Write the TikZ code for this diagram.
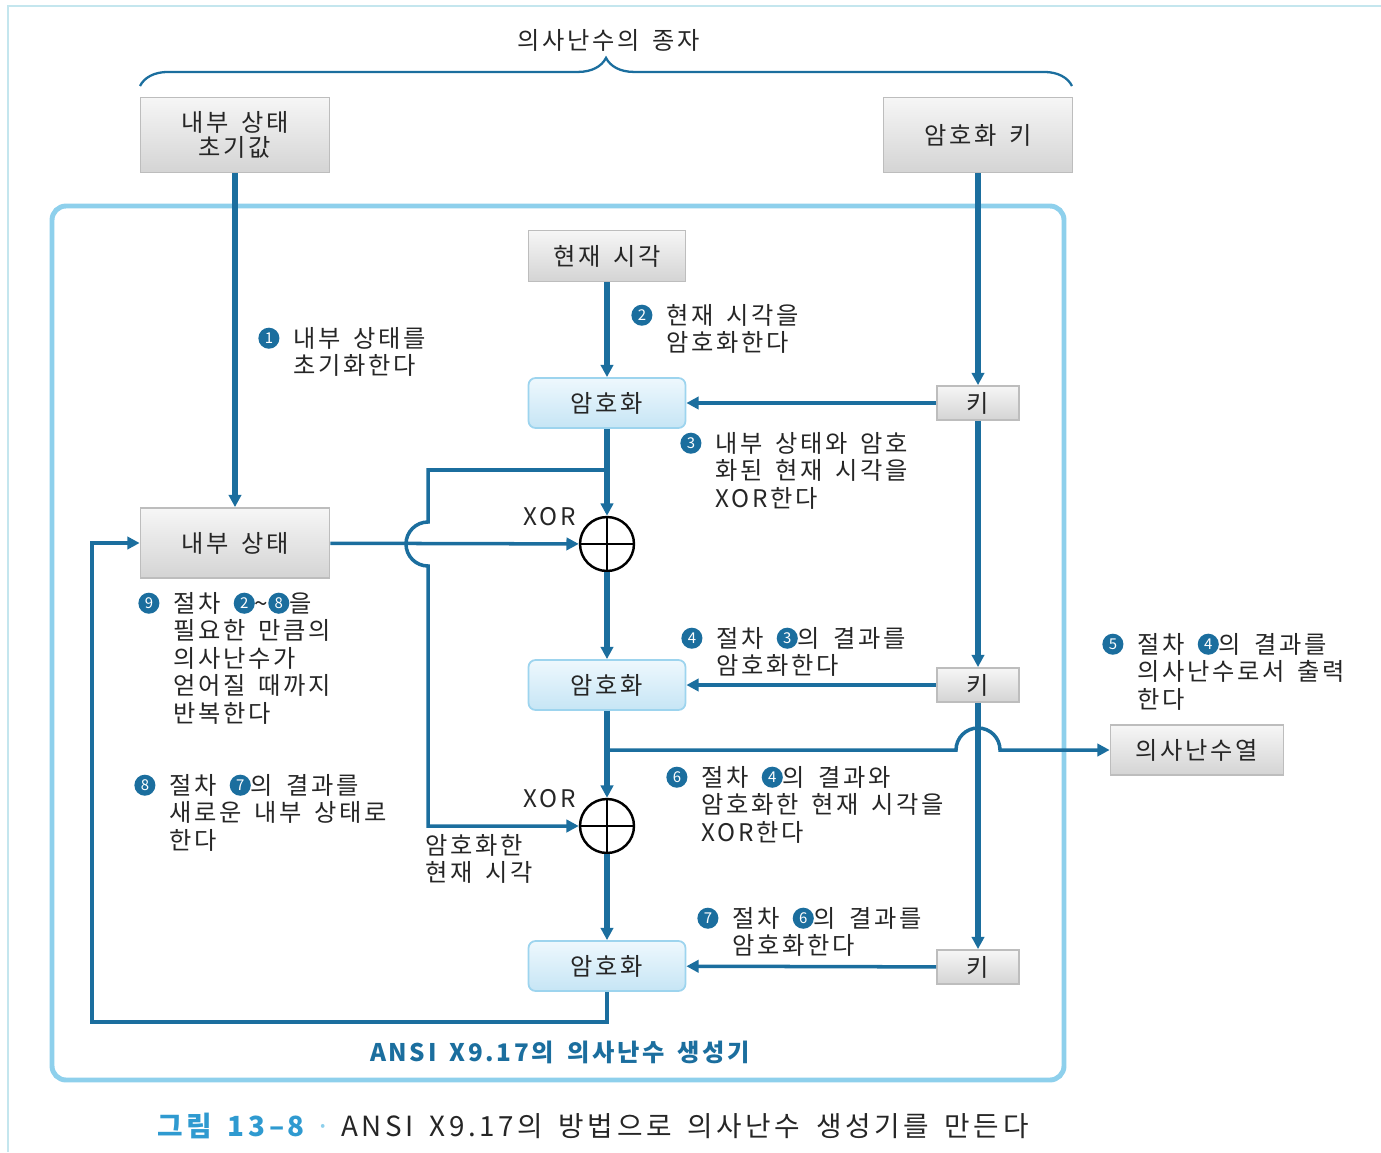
\documentclass[tikz,border=0pt]{standalone}
\usepackage{fontspec}
\setmainfont{Noto Sans CJK KR}[LetterSpace=11,WordSpace=1.6]
\usetikzlibrary{arrows.meta,positioning,calc,decorations.pathreplacing}

\definecolor{flow}{HTML}{1B6E9E}
\definecolor{frameblue}{HTML}{8ED0EC}
\definecolor{pageline}{HTML}{C4E6EE}
\definecolor{boxline}{HTML}{BDBDBD}
\definecolor{boxtop}{HTML}{F6F6F6}
\definecolor{boxbot}{HTML}{D4D4D4}
\definecolor{encline}{HTML}{9DD4EE}
\definecolor{enctop}{HTML}{EEF8FD}
\definecolor{encbot}{HTML}{C6E5F5}
\definecolor{textgray}{HTML}{262626}
\definecolor{figblue}{HTML}{2F9AD0}

\tikzset{numc/.style={circle, fill=flow, text=white, inner sep=0pt, minimum size=12pt, anchor=center, font=\fontsize{8.5}{8.5}\selectfont}}
\newcommand\cnum[1]{\tikz[baseline={([yshift=-5pt]c.center)}]\node[numc] (c) {#1};}
\newcommand\lines[1]{\begin{tabular}[t]{@{}l@{}}#1\end{tabular}}

\begin{document}
\begin{tikzpicture}[x=0.02cm, y=0.02cm,
    font=\fontsize{13.8}{14.2}\selectfont, text=textgray,
    graybox/.style={draw=boxline, line width=1pt, top color=boxtop, bottom color=boxbot, align=center},
    bigbox/.style={graybox, minimum width=3.78cm, minimum height=1.5cm},
    keybox/.style={graybox, minimum width=1.64cm, minimum height=0.68cm},
    encbox/.style={draw=encline, line width=1pt, rounded corners=4pt, top color=enctop, bottom color=encbot, minimum width=3.14cm, minimum height=1cm},
    xorc/.style={circle, draw=black, line width=1.4pt, minimum size=1.08cm, inner sep=0pt,
        path picture={\draw[line width=1.4pt] (path picture bounding box.north) -- (path picture bounding box.south)
        (path picture bounding box.west) -- (path picture bounding box.east);}},
    main/.style={draw=flow, line width=3.4pt},
    thin/.style={draw=flow, line width=2pt},
    arr/.style={-{Triangle[length=7pt,width=7pt]}},
    note/.style={anchor=base west, inner sep=0pt, align=left}
]
\useasboundingbox (0,0) rectangle (1381,-1152);
\draw[pageline, line width=1pt] (8,-1152) -- (8,-6) -- (1381,-6);

\node[inner sep=0pt] (seed) at (609,-40) {의사난수의 종자};
\coordinate (brl) at (140,-86);
\coordinate (brr) at (1072,-86);
\draw[flow, line width=1.3pt, decorate, decoration={brace, amplitude=16pt}] (brl) -- (brr);

\node[bigbox] (init) at (235,-135) {내부 상태\\초기값};
\node[bigbox] (key) at (978,-135) {암호화 키};

\draw[frameblue, line width=2.8pt, rounded corners=8pt] (52,-206) rectangle (1064,-1080);

\node[graybox, minimum width=3.14cm, minimum height=1.02cm] (time) at (607,-256) {현재 시각};
\node[encbox] (enc1) at (607,-403) {암호화};
\node[encbox] (enc2) at (607,-685) {암호화};
\node[encbox] (enc3) at (607,-966) {암호화};
\node[keybox] (k1) at (978,-403) {키};
\node[keybox] (k2) at (978,-685) {키};
\node[keybox] (k3) at (978,-967) {키};
\node[xorc] (xor1) at (607,-544) {};
\node[xorc] (xor2) at (607,-826) {};
\node[note] (x1) at (523,-525) {XOR};
\node[note] (x2) at (523,-807) {XOR};
\node[graybox, minimum width=3.78cm, minimum height=1.4cm] (state) at (235,-543) {내부 상태};
\node[graybox, minimum width=3.46cm, minimum height=1cm] (out) at (1197,-750) {의사난수열};

\draw[main,arr] (init) -- (state);
\draw[main,arr] (time) -- (enc1);
\draw[main,arr] (key) -- (k1);
\draw[main,arr] (k1) -- (k2);
\draw[main,arr] (k2) -- (k3);
\draw[thin,arr] (k1) -- (enc1);
\draw[thin,arr] (k2) -- (enc2);
\draw[thin,arr] (k3) -- (enc3);
\draw[main,arr] (enc1) -- (xor1);
\draw[main,arr] (xor1) -- (enc2);
\draw[main,arr] (enc2) -- (xor2);
\draw[main,arr] (xor2) -- (enc3);
\draw[thin,arr] (state) -- (xor1);

\coordinate (br1) at (607,-470);
\coordinate (br2) at (607,-750);
\coordinate (fb) at (92,-1022);
\draw[thin,arr] (br1) -- ++(-179,0) -- ++(0,-52) arc[start angle=90, end angle=270, radius=22] |- (xor2);
\draw[thin,arr] (br2) -- ++(349,0) arc[start angle=180, end angle=0, radius=22] -- (out);
\draw[thin,arr] (enc3) |- (fb) |- (state);

\node[note] (n1) at (258,-347) {\cnum{1}\hspace{8pt}\lines{내부 상태를\\초기화한다}};
\node[note] (n2) at (631,-324) {\cnum{2}\hspace{8pt}\lines{현재 시각을\\암호화한다}};
\node[note] (n3) at (680,-452) {\cnum{3}\hspace{8pt}\lines{내부 상태와 암호\\화된 현재 시각을\\XOR한다}};
\node[note] (n4) at (681,-647) {\cnum{4}\hspace{8pt}\lines{절차 \cnum{3}의 결과를\\암호화한다}};
\node[note] (n5) at (1102,-653) {\cnum{5}\hspace{8pt}\lines{절차 \cnum{4}의 결과를\\의사난수로서 출력\\한다}};
\node[note] (n6) at (666,-786) {\cnum{6}\hspace{8pt}\lines{절차 \cnum{4}의 결과와\\암호화한 현재 시각을\\XOR한다}};
\node[note] (n7) at (697,-927) {\cnum{7}\hspace{8pt}\lines{절차 \cnum{6}의 결과를\\암호화한다}};
\node[note] (n8) at (134,-794) {\cnum{8}\hspace{8pt}\lines{절차 \cnum{7}의 결과를\\새로운 내부 상태로\\한다}};
\node[note] (n9) at (138,-612) {\cnum{9}\hspace{8pt}\lines{절차 \cnum{2}\textasciitilde\cnum{8}을\\필요한 만큼의\\의사난수가\\얻어질 때까지\\반복한다}};
\node[note] (enct) at (425,-854) {\lines{암호화한\\현재 시각}};

\node[inner sep=0pt, text=flow, font=\fontsize{13.8}{14}\selectfont\bfseries] (gen) at (560,-1052) {ANSI X9.17의 의사난수 생성기};
\node[note, font=\fontsize{15.8}{16}\selectfont\addfontfeature{LetterSpace=13}] (cap) at (157,-1136) {{\color{figblue}\bfseries 그림 13–8}\hspace{6pt}{\color{frameblue}·}\hspace{6pt}ANSI X9.17의 방법으로 의사난수 생성기를 만든다};
\end{tikzpicture}
\end{document}
